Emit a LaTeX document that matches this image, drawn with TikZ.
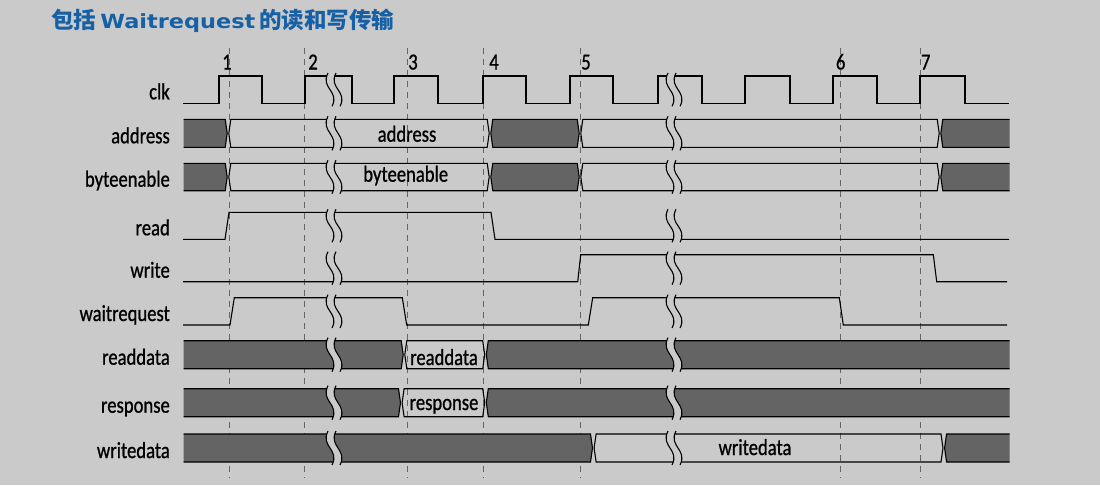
\documentclass[tikz,border=0pt]{standalone}
\usepackage{fontspec}
\setmainfont{Carlito}[FakeStretch=0.81, FakeBold=0.8]
\newfontfamily\cjkfont{Noto Sans CJK SC}
\newfontfamily\titlefont{DejaVu Sans}[FakeStretch=1.15]

\definecolor{bggray}{RGB}{202,202,202}
\definecolor{busgray}{RGB}{100,100,100}
\definecolor{titleblue}{RGB}{22,96,166}

% bus segment: style, x from, x to, top, bottom
\newcommand\busseg[5]{%
  \path[#1] ({#2+0.8},{(#4+#5)/2}) -- ({#2+2.8},#4) -- ({#3-2.8},#4)
    -- ({#3-0.8},{(#4+#5)/2}) -- ({#3-2.8},#5) -- ({#2+2.8},#5) -- cycle;}

% time break: x, top, bottom
\newcommand\wavebreak[3]{%
  \fill[bggray] ({#1+1},{#2-3}) .. controls ({#1-7},{#2+0.45*(#3-#2)}) and ({#1+13},{#2+0.55*(#3-#2)}) .. ({#1+5},{#3+3})
    -- ({#1+13},{#3+3}) .. controls ({#1+21},{#2+0.55*(#3-#2)}) and ({#1+1},{#2+0.45*(#3-#2)}) .. ({#1+9},{#2-3}) -- cycle;
  \foreach \d in {0,8}
    \draw[sig] ({#1+1+\d},{#2-3}) .. controls ({#1-7+\d},{#2+0.45*(#3-#2)}) and ({#1+13+\d},{#2+0.55*(#3-#2)}) .. ({#1+5+\d},{#3+3});}

\begin{document}
\begin{tikzpicture}[
        x=1pt, y=-1pt,
        sig/.style={line width=1.1pt, black},
        darkbus/.style={fill=busgray, draw=black, line width=1.1pt},
        openbus/.style={draw=black, line width=1.1pt},
        every node/.append style={inner sep=0pt, font=\fontsize{23}{27}\selectfont}
    ]

    \tikzstyle{grid} = [draw=gray!80!black, line width=0.9pt, dash pattern=on 6pt off 5pt]
    \tikzstyle{signame} = [anchor=base east]

    \useasboundingbox[fill=bggray] (0,0) rectangle (1100,485);

    \node[anchor=base west, text=titleblue] (title) at (51,28)
        {\fontsize{22.5}{27}\selectfont{\cjkfont\bfseries 包括} {\titlefont\bfseries\fontsize{19.5}{23}\selectfont Waitrequest} {\cjkfont\bfseries 的读和写传输}};

    % clock edges 1..7
    \foreach \x/\n/\lx in {229/1/227, 304.7/2/313, 407.3/3/413, 483.3/4/494,
                           580/5/586, 840.7/6/840.7, 920/7/925.7} {
        \draw[grid] (\x,48) -- (\x,478);
        \node[anchor=base] (edge\n) at (\lx,69.5) {\n};
    }

    % buses
    \begin{scope}
        \clip (183.5,0) rectangle (1009.5,485);
        \foreach \t/\b in {119.3/147.3, 163.3/190.7} {
            \busseg{darkbus}{170}{228}{\t}{\b}
            \busseg{openbus}{228}{490}{\t}{\b}
            \busseg{darkbus}{490}{580}{\t}{\b}
            \busseg{openbus}{580}{940}{\t}{\b}
            \busseg{darkbus}{940}{1020}{\t}{\b}
        }
        \busseg{darkbus}{170}{404}{340.7}{368.7}
        \busseg{openbus}{404}{485.5}{340.7}{368.7}
        \busseg{darkbus}{485.5}{1020}{340.7}{368.7}
        \busseg{darkbus}{170}{401.3}{388.7}{416.7}
        \busseg{openbus}{401.3}{485.5}{388.7}{416.7}
        \busseg{darkbus}{485.5}{1020}{388.7}{416.7}
        \busseg{darkbus}{170}{593.3}{434}{462}
        \busseg{openbus}{593.3}{943.8}{434}{462}
        \busseg{darkbus}{943.8}{1020}{434}{462}
    \end{scope}

    % single signals
    \draw[sig] (183,103.3) foreach \r/\f in {219/262, 305/352, 394/438, 483/526, 570/613,
                                             658/702, 745/790, 833/877, 920/965}
        { -- (\r,103.3) -- (\r,76) -- (\f,76) -- (\f,103.3) } -- (1009,103.3);
    \draw[sig] (183,239.3) -- (225,239.3) -- (229,212.3) -- (491,212.3) -- (495,239.3) -- (1009,239.3);
    \draw[sig] (183,281.7) -- (577.7,281.7) -- (580.7,254.7) -- (933.3,254.7) -- (936.7,281.7) -- (1007,281.7);
    \draw[sig] (183,325) -- (230,325) -- (234.3,297.7) -- (402.3,297.7) -- (406.7,325)
        -- (588.3,325) -- (592.7,297.7) -- (839.3,297.7) -- (843.3,325) -- (1007,325);

    % breaks
    \foreach \t/\b in {76/103.3, 119.3/147.3, 163.3/190.7, 212.3/239.3, 254.7/281.7,
                       297.7/325, 340.7/368.7, 388.7/416.7, 434/462}
        \foreach \x in {327,667}
            \wavebreak{\x}{\t}{\b};

    % signal names
    \foreach \s/\b in {clk/103.3, address/147.3, byteenable/190.7, read/239.3, write/281.7,
                       waitrequest/325, readdata/368.7, response/416.7, writedata/462}
        \node[signame] (\s) at (170,\b-4) {\s};

    % bus values
    \node[anchor=base] (addrval) at (407,141.7) {address};
    \node[anchor=base] (beval) at (405.7,181.7) {byteenable};
    \node[anchor=base] (rdval) at (444,365) {readdata};
    \node[anchor=base] (respval) at (444,410) {response};
    \node[anchor=base] (wrval) at (755,455) {writedata};

\end{tikzpicture}
\end{document}
